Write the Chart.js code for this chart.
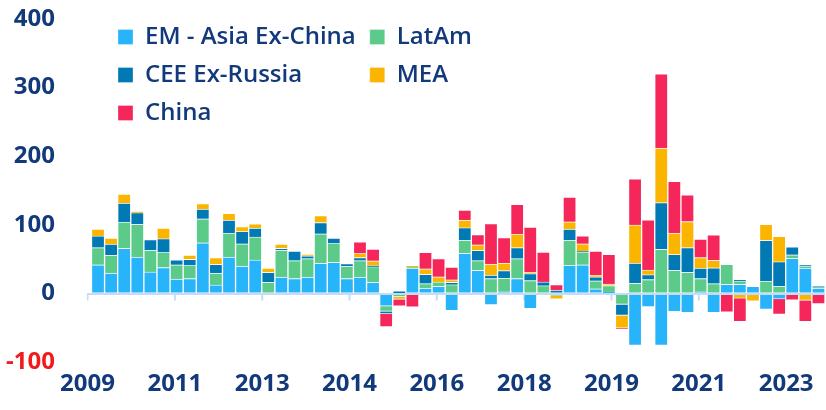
<!DOCTYPE html>
<html>
<head>
<meta charset="utf-8">
<title>EM flows by region</title>
<script src="https://cdn.jsdelivr.net/npm/chart.js@4.4.1/dist/chart.umd.min.js"></script>
<style>
  html, body { margin: 0; padding: 0; background: #ffffff; }
  #wrap { width: 826px; height: 410px; }
</style>
</head>
<body>
<div id="wrap"><canvas id="myChart" width="826" height="410"></canvas></div>
<script>
// quarters shown as bars
const quarters = [
  '2009Q1','2009Q2','2009Q3','2009Q4','2010Q1','2010Q2','2010Q3','2010Q4',
  '2011Q1','2011Q2','2011Q3','2011Q4','2012Q1','2012Q2','2012Q3','2012Q4',
  '2013Q1','2013Q2','2013Q3','2013Q4','2014Q1','2014Q2','2014Q3','2014Q4',
  '2015Q1','2015Q2','2015Q3','2015Q4','2016Q1','2016Q2','2016Q3','2016Q4',
  '2017Q1','2017Q2','2017Q3','2017Q4','2018Q1','2018Q2','2018Q3','2018Q4',
  '2019Q1','2019Q2','2019Q3','2019Q4','2020Q1','2020Q2','2020Q3','2020Q4',
  '2021Q1','2021Q2','2021Q3','2021Q4','2022Q1','2022Q2','2022Q3','2022Q4'
];

const emAsia = [42, 30, 66, 53, 31.5, 38, 21, 22, 74, 12.6, 53, 40, 49, 0, 24, 22, 24, 44, 45.5, 22,
  24, 16.5, -18.5, 0, 37, 8, 10.7, -25, 58.6, 34, -16.5, 2.5, 22, -22, 0, 0, 41, 42, 7, 2.4,
  0, -75.5, -19.5, -75.5, -26.5, -28, 2.5, -28, 13.5, 13.5, 10.5, -23, -8, 51.5, 37, 8];
const latAm = [25, 26, 38, 48, 31.5, 22, 21, 19, 35, 17.4, 35, 32.5, 33.5, 16.5, 39, 26, 27, 43, 27.5, 18,
  24, 22.7, -7.5, -5, 1.5, 6.5, 6.3, 13, 19.4, 14, 22, 20, 29, 19, 11.5, -3, 37, 18, 11.5, 9.2,
  -16, 15, 20.5, 64.5, 34, 31, 19.5, 14.5, 29, 5, 0, 18, 10.5, 5, 2.5, 1];
const ceeExRussia = [17, 16, 28, 17, 15.5, 20, 7, 9, 14, 12.6, 19, 18, 13, 14.5, 3, 14, 4, 16.5, 8, 3.5,
  4.5, 1.5, -3.5, 3.5, 0, 13.5, -2, 3.5, 18, 15, 5, 11, 16, 10, 5.5, 5, 16, 2, 6, 0,
  -16, 29.5, 7, 68, 23, 36, 15, 23, 0, 1.5, 0, 59.5, 36, 11.5, 2.5, 1.5];
const mea = [10, 9, 13, 1.5, 0, 15.5, 0, 6, 8, 9.7, 10, 7, 6, 6.3, 6, -1.5, 2, 10, 0, -1.5,
  6, 7, 0, -3.5, 2, 8, 7.5, 3.5, 11, 8, 16, 11, 19.5, 2, -1, -5, 10.5, 10.5, 2.5, 2.5,
  -18.4, 55.5, 7, 79.5, 31, 38, 15.5, 11, 0, -7, -11, 23.5, 37, 0, -10, 0];
const china = [0, 0, 0, 0, 0, 0, 0, 0, 0, 0, 0, 0, 0, 0, 0, 0, 0, 0, 0, 0,
  17, 17, -19, -10, -20, 24, 26.5, 18.5, 14.5, 15, 59, 37, 43.5, 66, 43.5, 8, 36, 11.5, 35, 43,
  -1.5, 67, 73, 108, 75.5, 39, 27, 37, -27, -34, 0, 0, -22.5, -9.5, -31, -15];

// labelled ticks on the time axis
const xTickLabels = ['2009', '2011', '2013', '2014', '2016', '2018', '2019', '2021', '2023'];
const yTickValues = [-100, 0, 100, 200, 300, 400];

const navy = '#123a7a';
const red = '#f01c1c';
const axisBlue = '#c6dcf6';
const fontFamily = "'Open Sans', 'Noto Sans', sans-serif";

// first labelled tick sits a bit before the first bar; one tick every 20 months
const firstTick = -0.8;
const tickStep = 20 / 3;
const xTickValues = xTickLabels.map((t, i) => firstTick + i * tickStep);

const toPoints = (arr) => arr.map((v, i) => ({ x: i, y: v }));

// put the legend in two columns inside the plot, top left
const legendColumns = {
  id: 'legendColumns',
  afterLayout(chart) {
    const lg = chart.legend;
    if (!lg) return;
    lg.update(chart.chartArea.width, 145, { left: 0, top: 0, right: 0, bottom: 0 });
    lg.left = 104;
    lg.top = 11;
    lg.bottom = 150;
    lg.right = lg.left + lg.width;
  }
};

const legendOrder = [0, 2, 4, 1, 3];

const barDefaults = {
  type: 'bar',
  xAxisID: 'x',
  yAxisID: 'y',
  barPercentage: 1,
  categoryPercentage: 1,
  borderWidth: 1,
  borderColor: 'rgba(255,255,255,0.3)'
};

const ctx = document.getElementById('myChart');

new Chart(ctx, {
  type: 'bar',
  data: {
    datasets: [
      Object.assign({ label: 'EM - Asia Ex-China', data: toPoints(emAsia), backgroundColor: '#27b4fb' }, barDefaults),
      Object.assign({ label: 'LatAm', data: toPoints(latAm), backgroundColor: '#5ccb8a' }, barDefaults),
      Object.assign({ label: 'CEE Ex-Russia', data: toPoints(ceeExRussia), backgroundColor: '#0079b4' }, barDefaults),
      Object.assign({ label: 'MEA', data: toPoints(mea), backgroundColor: '#fbb500' }, barDefaults),
      Object.assign({ label: 'China', data: toPoints(china), backgroundColor: '#f5265a' }, barDefaults),
      // little tick marks hanging under the zero line
      {
        type: 'line',
        label: 'axis ticks',
        xAxisID: 'x',
        yAxisID: 'y',
        data: xTickValues.map(v => ({ x: v, y: -5 })),
        showLine: false,
        pointStyle: 'line',
        pointRotation: 90,
        pointRadius: 3.5,
        pointHoverRadius: 3.5,
        pointBorderWidth: 2,
        pointHoverBorderWidth: 2,
        pointBorderColor: axisBlue,
        borderColor: axisBlue,
        backgroundColor: axisBlue
      }
    ]
  },
  options: {
    responsive: false,
    animation: false,
    layout: { autoPadding: false, padding: { left: 2, right: 1, top: 19, bottom: 3 } },
    plugins: {
      legend: {
        position: 'chartArea',
        align: 'start',
        labels: {
          boxWidth: 15,
          boxHeight: 15,
          padding: 14,
          color: navy,
          font: { family: fontFamily, size: 24, weight: '600' },
          filter: (item) => item.datasetIndex < 5,
          sort: (a, b) => legendOrder.indexOf(a.datasetIndex) - legendOrder.indexOf(b.datasetIndex)
        }
      },
      tooltip: {
        filter: (item) => item.datasetIndex < 5,
        callbacks: {
          title: (items) => items.length ? (quarters[items[0].parsed.x] || '') : ''
        }
      }
    },
    scales: {
      x: {
        type: 'linear',
        min: -0.85,
        max: 55.5,
        offset: false,
        bounds: 'data',
        stacked: true,
        grid: { display: false, drawTicks: false, offset: false },
        border: { display: false },
        afterBuildTicks: (axis) => { axis.ticks = xTickValues.map(v => ({ value: v })); },
        ticks: {
          padding: 8,
          autoSkip: false,
          maxRotation: 0,
          color: navy,
          font: { family: fontFamily, size: 24, weight: 'bold' },
          callback: (value, index) => xTickLabels[index]
        }
      },
      y: {
        min: -100,
        max: 400,
        stacked: true,
        grid: {
          z: 1,
          drawTicks: true,
          tickLength: 28,
          tickColor: 'rgba(0,0,0,0)',
          lineWidth: 2,
          color: (c) => (c.tick && c.tick.value === 0) ? axisBlue : 'rgba(0,0,0,0)'
        },
        border: { display: false },
        afterBuildTicks: (axis) => { axis.ticks = yTickValues.map(v => ({ value: v })); },
        ticks: {
          padding: 4,
          color: (c) => c.tick.value < 0 ? red : navy,
          font: { family: fontFamily, size: 24, weight: 'bold' }
        }
      }
    }
  },
  plugins: [legendColumns]
});
</script>
</body>
</html>
